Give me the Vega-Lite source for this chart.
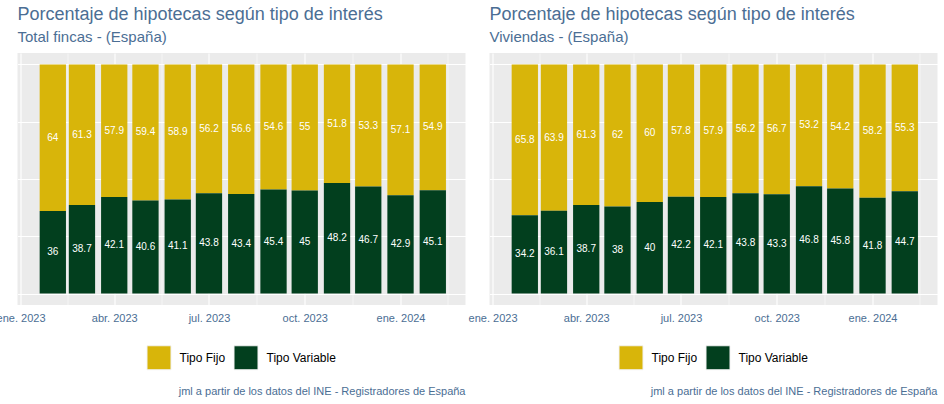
{
  "$schema": "https://vega.github.io/schema/vega-lite/v6.json",
  "padding": {"left": -4.5, "top": 6, "right": 0, "bottom": 0},
  "datasets": {
    "hip": [
      {"serie": "Total fincas", "fecha": "2023-02-01", "tipo": "Tipo Fijo", "valor": 64},
      {"serie": "Total fincas", "fecha": "2023-02-01", "tipo": "Tipo Variable", "valor": 36},
      {"serie": "Total fincas", "fecha": "2023-03-01", "tipo": "Tipo Fijo", "valor": 61.3},
      {"serie": "Total fincas", "fecha": "2023-03-01", "tipo": "Tipo Variable", "valor": 38.7},
      {"serie": "Total fincas", "fecha": "2023-04-01", "tipo": "Tipo Fijo", "valor": 57.9},
      {"serie": "Total fincas", "fecha": "2023-04-01", "tipo": "Tipo Variable", "valor": 42.1},
      {"serie": "Total fincas", "fecha": "2023-05-01", "tipo": "Tipo Fijo", "valor": 59.4},
      {"serie": "Total fincas", "fecha": "2023-05-01", "tipo": "Tipo Variable", "valor": 40.6},
      {"serie": "Total fincas", "fecha": "2023-06-01", "tipo": "Tipo Fijo", "valor": 58.9},
      {"serie": "Total fincas", "fecha": "2023-06-01", "tipo": "Tipo Variable", "valor": 41.1},
      {"serie": "Total fincas", "fecha": "2023-07-01", "tipo": "Tipo Fijo", "valor": 56.2},
      {"serie": "Total fincas", "fecha": "2023-07-01", "tipo": "Tipo Variable", "valor": 43.8},
      {"serie": "Total fincas", "fecha": "2023-08-01", "tipo": "Tipo Fijo", "valor": 56.6},
      {"serie": "Total fincas", "fecha": "2023-08-01", "tipo": "Tipo Variable", "valor": 43.4},
      {"serie": "Total fincas", "fecha": "2023-09-01", "tipo": "Tipo Fijo", "valor": 54.6},
      {"serie": "Total fincas", "fecha": "2023-09-01", "tipo": "Tipo Variable", "valor": 45.4},
      {"serie": "Total fincas", "fecha": "2023-10-01", "tipo": "Tipo Fijo", "valor": 55},
      {"serie": "Total fincas", "fecha": "2023-10-01", "tipo": "Tipo Variable", "valor": 45},
      {"serie": "Total fincas", "fecha": "2023-11-01", "tipo": "Tipo Fijo", "valor": 51.8},
      {"serie": "Total fincas", "fecha": "2023-11-01", "tipo": "Tipo Variable", "valor": 48.2},
      {"serie": "Total fincas", "fecha": "2023-12-01", "tipo": "Tipo Fijo", "valor": 53.3},
      {"serie": "Total fincas", "fecha": "2023-12-01", "tipo": "Tipo Variable", "valor": 46.7},
      {"serie": "Total fincas", "fecha": "2024-01-01", "tipo": "Tipo Fijo", "valor": 57.1},
      {"serie": "Total fincas", "fecha": "2024-01-01", "tipo": "Tipo Variable", "valor": 42.9},
      {"serie": "Total fincas", "fecha": "2024-02-01", "tipo": "Tipo Fijo", "valor": 54.9},
      {"serie": "Total fincas", "fecha": "2024-02-01", "tipo": "Tipo Variable", "valor": 45.1},
      {"serie": "Viviendas", "fecha": "2023-02-01", "tipo": "Tipo Fijo", "valor": 65.8},
      {"serie": "Viviendas", "fecha": "2023-02-01", "tipo": "Tipo Variable", "valor": 34.2},
      {"serie": "Viviendas", "fecha": "2023-03-01", "tipo": "Tipo Fijo", "valor": 63.9},
      {"serie": "Viviendas", "fecha": "2023-03-01", "tipo": "Tipo Variable", "valor": 36.1},
      {"serie": "Viviendas", "fecha": "2023-04-01", "tipo": "Tipo Fijo", "valor": 61.3},
      {"serie": "Viviendas", "fecha": "2023-04-01", "tipo": "Tipo Variable", "valor": 38.7},
      {"serie": "Viviendas", "fecha": "2023-05-01", "tipo": "Tipo Fijo", "valor": 62},
      {"serie": "Viviendas", "fecha": "2023-05-01", "tipo": "Tipo Variable", "valor": 38},
      {"serie": "Viviendas", "fecha": "2023-06-01", "tipo": "Tipo Fijo", "valor": 60},
      {"serie": "Viviendas", "fecha": "2023-06-01", "tipo": "Tipo Variable", "valor": 40},
      {"serie": "Viviendas", "fecha": "2023-07-01", "tipo": "Tipo Fijo", "valor": 57.8},
      {"serie": "Viviendas", "fecha": "2023-07-01", "tipo": "Tipo Variable", "valor": 42.2},
      {"serie": "Viviendas", "fecha": "2023-08-01", "tipo": "Tipo Fijo", "valor": 57.9},
      {"serie": "Viviendas", "fecha": "2023-08-01", "tipo": "Tipo Variable", "valor": 42.1},
      {"serie": "Viviendas", "fecha": "2023-09-01", "tipo": "Tipo Fijo", "valor": 56.2},
      {"serie": "Viviendas", "fecha": "2023-09-01", "tipo": "Tipo Variable", "valor": 43.8},
      {"serie": "Viviendas", "fecha": "2023-10-01", "tipo": "Tipo Fijo", "valor": 56.7},
      {"serie": "Viviendas", "fecha": "2023-10-01", "tipo": "Tipo Variable", "valor": 43.3},
      {"serie": "Viviendas", "fecha": "2023-11-01", "tipo": "Tipo Fijo", "valor": 53.2},
      {"serie": "Viviendas", "fecha": "2023-11-01", "tipo": "Tipo Variable", "valor": 46.8},
      {"serie": "Viviendas", "fecha": "2023-12-01", "tipo": "Tipo Fijo", "valor": 54.2},
      {"serie": "Viviendas", "fecha": "2023-12-01", "tipo": "Tipo Variable", "valor": 45.8},
      {"serie": "Viviendas", "fecha": "2024-01-01", "tipo": "Tipo Fijo", "valor": 58.2},
      {"serie": "Viviendas", "fecha": "2024-01-01", "tipo": "Tipo Variable", "valor": 41.8},
      {"serie": "Viviendas", "fecha": "2024-02-01", "tipo": "Tipo Fijo", "valor": 55.3},
      {"serie": "Viviendas", "fecha": "2024-02-01", "tipo": "Tipo Variable", "valor": 44.7}
    ],
    "fuente": [
      {"nota": "jml a partir de los datos del INE - Registradores de España"}
    ]
  },
  "spacing": 2,
  "resolve": {"scale": {"color": "independent", "x": "independent", "y": "independent"}, "legend": {"color": "independent"}},
  "hconcat": [
    {
      "spacing": 14,
      "resolve": {"scale": {"color": "independent"}, "legend": {"color": "independent"}},
      "vconcat": [
        {
          "width": 448,
          "height": 252,
          "view": {"fill": "#EBEBEB", "stroke": null},
          "title": {"text": "Porcentaje de hipotecas según tipo de interés", "subtitle": "Total fincas - (España)", "anchor": "start", "frame": "group"},
          "data": {"name": "hip"},
          "transform": [
            {"filter": "datum.serie == 'Total fincas'"},
            {"stack": "valor", "groupby": ["fecha"], "sort": [{"field": "tipo", "order": "descending"}], "as": ["v0", "v1"]},
            {"calculate": "(datum.v0 + datum.v1) / 2", "as": "vmid"}
          ],
          "layer": [
            {
              "mark": {"type": "bar", "width": 26.3},
              "encoding": {
                "x": {"field": "fecha", "type": "temporal",
                  "scale": {"type": "utc", "nice": false, "padding": 0, "domain": [{"year": 2022, "month": 12, "date": 29, "hours": 2, "utc": true}, {"year": 2024, "month": 3, "date": 3, "hours": 10, "utc": true}]},
                  "axis": {"title": null, "ticks": false, "domain": false, "labelPadding": 7, "labelOverlap": false, "labelFlush": false,
                    "values": [{"year": 2023, "month": 1, "date": 1, "utc": true}, {"year": 2023, "month": 2, "date": 15, "utc": true}, {"year": 2023, "month": 4, "date": 1, "utc": true}, {"year": 2023, "month": 5, "date": 16, "hours": 12, "utc": true}, {"year": 2023, "month": 7, "date": 1, "utc": true}, {"year": 2023, "month": 8, "date": 16, "utc": true}, {"year": 2023, "month": 10, "date": 1, "utc": true}, {"year": 2023, "month": 11, "date": 16, "utc": true}, {"year": 2024, "month": 1, "date": 1, "utc": true}, {"year": 2024, "month": 2, "date": 15, "hours": 12, "utc": true}],
                    "labelExpr": "utcdate(datum.value) == 1 ? ['ene.','feb.','mar.','abr.','may.','jun.','jul.','ago.','sept.','oct.','nov.','dic.'][utcmonth(datum.value)] + ' ' + utcyear(datum.value) : ''",
                    "gridWidth": {"condition": {"test": "utcdate(datum.value) == 1", "value": 1.1}, "value": 0.55}}},
                "y": {"field": "v0", "type": "quantitative", "scale": {"domain": [-5, 105], "nice": false, "zero": false, "padding": 0},
                  "axis": {"title": null, "labels": false, "ticks": false, "domain": false, "values": [0, 12.5, 25, 37.5, 50, 62.5, 75, 87.5, 100],
                    "gridWidth": {"condition": {"test": "datum.value % 25 == 0", "value": 1.1}, "value": 0.55}}},
                "y2": {"field": "v1"},
                "color": {"field": "tipo", "type": "nominal", "scale": {"domain": ["Tipo Fijo", "Tipo Variable"], "range": ["#D8B50A", "#023F1E"]}}
              }
            },
            {
              "mark": {"type": "text", "color": "white", "fontSize": 10},
              "encoding": {
                "x": {"field": "fecha", "type": "temporal"},
                "y": {"field": "vmid", "type": "quantitative"},
                "text": {"field": "valor", "type": "nominal"}
              }
            }
          ]
        },
        {
          "width": 448,
          "height": 12,
          "view": {"fill": null, "stroke": null},
          "data": {"name": "fuente"},
          "mark": {"type": "text", "align": "right", "baseline": "middle", "fontSize": 11, "color": "#4B6E94"},
          "encoding": {"text": {"field": "nota", "type": "nominal"}, "x": {"value": "width"}}
        }
      ]
    },
    {
      "spacing": 14,
      "resolve": {"scale": {"color": "independent"}, "legend": {"color": "independent"}},
      "vconcat": [
        {
          "width": 448,
          "height": 252,
          "view": {"fill": "#EBEBEB", "stroke": null},
          "title": {"text": "Porcentaje de hipotecas según tipo de interés", "subtitle": "Viviendas - (España)", "anchor": "start", "frame": "group"},
          "data": {"name": "hip"},
          "transform": [
            {"filter": "datum.serie == 'Viviendas'"},
            {"stack": "valor", "groupby": ["fecha"], "sort": [{"field": "tipo", "order": "descending"}], "as": ["v0", "v1"]},
            {"calculate": "(datum.v0 + datum.v1) / 2", "as": "vmid"}
          ],
          "layer": [
            {
              "mark": {"type": "bar", "width": 26.3},
              "encoding": {
                "x": {"field": "fecha", "type": "temporal",
                  "scale": {"type": "utc", "nice": false, "padding": 0, "domain": [{"year": 2022, "month": 12, "date": 29, "hours": 2, "utc": true}, {"year": 2024, "month": 3, "date": 3, "hours": 10, "utc": true}]},
                  "axis": {"title": null, "ticks": false, "domain": false, "labelPadding": 7, "labelOverlap": false, "labelFlush": false,
                    "values": [{"year": 2023, "month": 1, "date": 1, "utc": true}, {"year": 2023, "month": 2, "date": 15, "utc": true}, {"year": 2023, "month": 4, "date": 1, "utc": true}, {"year": 2023, "month": 5, "date": 16, "hours": 12, "utc": true}, {"year": 2023, "month": 7, "date": 1, "utc": true}, {"year": 2023, "month": 8, "date": 16, "utc": true}, {"year": 2023, "month": 10, "date": 1, "utc": true}, {"year": 2023, "month": 11, "date": 16, "utc": true}, {"year": 2024, "month": 1, "date": 1, "utc": true}, {"year": 2024, "month": 2, "date": 15, "hours": 12, "utc": true}],
                    "labelExpr": "utcdate(datum.value) == 1 ? ['ene.','feb.','mar.','abr.','may.','jun.','jul.','ago.','sept.','oct.','nov.','dic.'][utcmonth(datum.value)] + ' ' + utcyear(datum.value) : ''",
                    "gridWidth": {"condition": {"test": "utcdate(datum.value) == 1", "value": 1.1}, "value": 0.55}}},
                "y": {"field": "v0", "type": "quantitative", "scale": {"domain": [-5, 105], "nice": false, "zero": false, "padding": 0},
                  "axis": {"title": null, "labels": false, "ticks": false, "domain": false, "values": [0, 12.5, 25, 37.5, 50, 62.5, 75, 87.5, 100],
                    "gridWidth": {"condition": {"test": "datum.value % 25 == 0", "value": 1.1}, "value": 0.55}}},
                "y2": {"field": "v1"},
                "color": {"field": "tipo", "type": "nominal", "scale": {"domain": ["Tipo Fijo", "Tipo Variable"], "range": ["#D8B50A", "#023F1E"]}}
              }
            },
            {
              "mark": {"type": "text", "color": "white", "fontSize": 10},
              "encoding": {
                "x": {"field": "fecha", "type": "temporal"},
                "y": {"field": "vmid", "type": "quantitative"},
                "text": {"field": "valor", "type": "nominal"}
              }
            }
          ]
        },
        {
          "width": 448,
          "height": 12,
          "view": {"fill": null, "stroke": null},
          "data": {"name": "fuente"},
          "mark": {"type": "text", "align": "right", "baseline": "middle", "fontSize": 11, "color": "#4B6E94"},
          "encoding": {"text": {"field": "nota", "type": "nominal"}, "x": {"value": "width"}}
        }
      ]
    }
  ],
  "config": {
    "font": "Liberation Sans",
    "view": {"stroke": null},
    "axis": {"gridColor": "#FFFFFF", "gridOpacity": 1, "labelColor": "#4B6E94", "labelFontSize": 11, "labelFont": "Liberation Sans"},
    "title": {"color": "#4B6E94", "fontSize": 18, "fontWeight": "normal", "subtitleColor": "#4B6E94", "subtitleFontSize": 15, "subtitlePadding": 6, "offset": 8},
    "legend": {"orient": "bottom", "direction": "horizontal", "title": null, "symbolType": "square", "symbolSize": 576, "symbolStrokeColor": "#F2F2F2", "symbolStrokeWidth": 1, "symbolOpacity": 1, "labelFontSize": 12, "labelColor": "#000000", "labelOffset": 8, "columnPadding": 6, "offset": 22, "layout": {"bottom": {"anchor": "middle"}}}
  }
}
